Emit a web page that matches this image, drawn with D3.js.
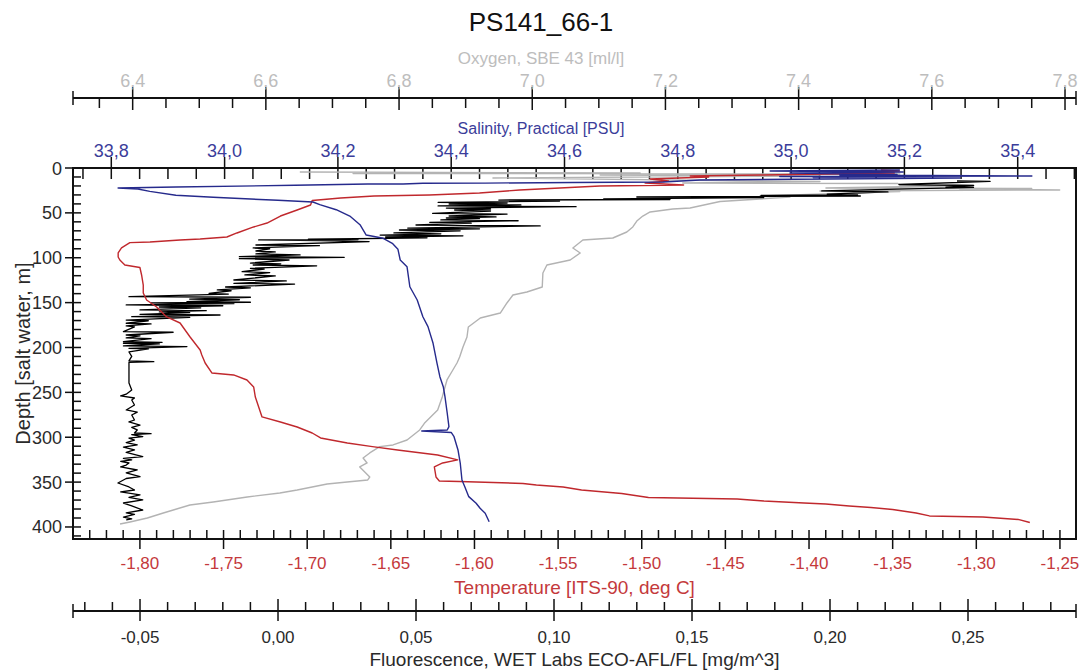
<!DOCTYPE html>
<html>
<head>
<meta charset="utf-8">
<title>PS141_66-1</title>
<script src="https://cdn.jsdelivr.net/npm/d3@7"></script>
<style>
  html, body { margin: 0; padding: 0; background: #fff; }
  svg { display: block; font-family: "Liberation Sans", Arial, sans-serif; }
</style>
</head>
<body>
<svg id="chart" width="1083" height="671"></svg>
<script>
// ---- CTD cast PS141_66-1: profiles as [depth m, value] ----
const temperature = [
  [2.2,-1.357],[3.3,-1.346],[4.5,-1.378],[5.6,-1.349],[7.8,-1.429],[8.9,-1.471],[10.0,-1.460],
  [12.3,-1.495],[14.5,-1.484],[16.7,-1.498],[18.9,-1.475],[20.1,-1.525],[22.3,-1.549],[24.5,-1.573],
  [27.9,-1.597],[30.1,-1.627],[31.2,-1.660],[33.4,-1.680],[36.2,-1.697],[41.2,-1.698],[46.8,-1.706],
  [53.5,-1.716],[61.3,-1.724],[65.7,-1.732],[72.4,-1.742],[76.9,-1.748],[79.1,-1.764],[80.2,-1.776],
  [82.5,-1.794],[83.2,-1.806],[89.1,-1.811],[94.7,-1.813],[99.2,-1.813],[102.5,-1.812],[108.1,-1.809],
  [110.9,-1.800],[119.2,-1.799],[130.4,-1.798],[139.3,-1.798],[147.1,-1.796],[154.9,-1.790],
  [166.0,-1.784],[172.7,-1.776],[188.3,-1.770],[202.8,-1.764],[208.4,-1.763],[217.3,-1.761],
  [228.4,-1.757],[230.6,-1.744],[236.2,-1.736],[244.0,-1.732],[255.2,-1.731],[277.4,-1.727],
  [283.0,-1.716],[288.6,-1.706],[295.3,-1.697],[300.8,-1.692],[306.4,-1.676],[310.5,-1.661],
  [314.2,-1.646],[319.8,-1.622],[325.3,-1.610],[328.7,-1.619],[333.1,-1.624],[344.3,-1.623],
  [348.7,-1.621],[349.3,-1.609],[351.5,-1.571],[353.2,-1.563],[355.4,-1.547],[358.8,-1.536],
  [362.7,-1.512],[367.1,-1.496],[368.8,-1.443],[371.0,-1.427],[373.3,-1.403],[374.4,-1.390],
  [376.6,-1.376],[378.3,-1.363],[380.5,-1.350],[384.4,-1.336],[387.7,-1.328],[388.9,-1.296],
  [391.6,-1.275],[395.0,-1.268]
];

const salinity = [
  [2.2,35.192],[3.3,34.963],[4.5,35.198],[5.6,34.998],[7.2,35.187],[7.8,35.086],[8.9,35.425],
  [9.5,34.980],[10.0,35.187],[10.6,35.039],[11.1,35.298],[13.4,34.839],[15.6,34.774],[16.2,34.615],
  [16.8,34.460],[17.0,34.350],[17.8,34.315],[17.9,34.253],[19.3,34.124],[21.2,33.914],[22.3,33.812],
  [23.4,33.847],[26.0,33.868],[30.4,33.914],[32.6,33.980],[36.0,34.094],[37.9,34.156],[40.9,34.168],
  [46.5,34.197],[53.5,34.221],[63.2,34.239],[74.7,34.250],[78.3,34.280],[83.9,34.296],[90.6,34.306],
  [102.5,34.310],[110.0,34.322],[132.3,34.327],[147.1,34.340],[165.7,34.350],[176.8,34.359],
  [195.3,34.368],[217.6,34.375],[232.5,34.380],[243.7,34.386],[254.8,34.389],[273.3,34.393],
  [288.2,34.396],[291.9,34.393],[293.0,34.348],[294.7,34.400],[299.4,34.405],[314.2,34.412],
  [329.0,34.416],[347.6,34.419],[355.1,34.424],[366.2,34.431],[373.6,34.444],[379.2,34.451],
  [384.7,34.460],[394.1,34.467]
];

const oxygen = [
  [4.5,6.651],[5.6,7.162],[6.1,6.731],[6.7,7.552],[7.8,7.102],[8.9,7.432],[11.1,6.941],[14.5,7.342],
  [15.0,7.432],[16.7,7.226],[17.3,7.549],[18.9,7.552],[19.5,7.663],[22.3,7.441],[22.8,7.750],
  [23.4,7.642],[24.5,7.792],[25.6,7.432],[26.2,7.552],[31.2,7.342],[32.3,7.387],[36.8,7.294],
  [37.3,7.282],[44.6,7.237],[45.7,7.211],[49.0,7.177],[53.5,7.166],[59.1,7.157],[65.7,7.151],
  [71.3,7.142],[78.0,7.121],[80.2,7.076],[89.1,7.061],[94.7,7.072],[102.5,7.057],[108.1,7.022],
  [117.0,7.016],[132.6,7.015],[138.2,6.992],[141.5,6.971],[150.4,6.962],[161.6,6.952],[167.1,6.922],
  [177.2,6.904],[188.3,6.902],[199.4,6.896],[210.6,6.891],[217.3,6.887],[227.3,6.879],[236.2,6.872],
  [244.0,6.869],[254.8,6.865],[269.6,6.858],[284.5,6.838],[291.9,6.831],[303.1,6.812],[308.6,6.791],
  [310.5,6.771],[317.5,6.756],[323.1,6.746],[328.7,6.752],[333.1,6.741],[344.3,6.756],[347.6,6.753],
  [349.9,6.722],[352.1,6.692],[358.8,6.647],[362.1,6.621],[366.6,6.572],[372.1,6.521],[375.5,6.486],
  [381.1,6.461],[384.4,6.446],[390.0,6.422],[394.4,6.396],[396.7,6.381]
];

const fluorescence = [
  [14.5,0.246],[15.0,0.258],[18.4,0.225],[19.5,0.252],[21.2,0.242],[21.7,0.252],[25.6,0.197],
  [26.7,0.221],[29.0,0.199],[30.1,0.210],[30.6,0.175],[31.2,0.211],[32.3,0.130],[32.9,0.176],
  [34.5,0.118],[35.1,0.142],[35.7,0.080],[36.8,0.102],[38.2,0.058],[39.0,0.083],[40.1,0.062],
  [41.2,0.088],[42.3,0.058],[43.1,0.108],[44.6,0.061],[45.7,0.077],[46.8,0.064],[47.9,0.077],
  [50.5,0.056],[51.3,0.083],[53.5,0.062],[54.5,0.079],[55.7,0.061],[56.5,0.073],[57.9,0.059],
  [58.8,0.087],[60.7,0.055],[61.5,0.070],[63.5,0.050],[64.5,0.095],[66.9,0.047],[67.8,0.073],
  [69.1,0.044],[70.0,0.066],[72.4,0.042],[73.3,0.059],[74.7,0.037],[75.6,0.067],[76.9,0.039],
  [77.8,0.054],[79.4,0.011],[79.8,0.029],[80.2,-0.007],[80.8,0.015],[81.3,0.019],[82.0,0.033],
  [85.8,-0.008],[86.5,0.015],[89.1,-0.009],[90.0,-0.003],[92.5,-0.008],[93.5,-0.001],[95.8,-0.008],
  [96.8,0.008],[98.8,-0.014],[99.5,0.024],[101.0,-0.014],[102.5,0.004],[105.9,-0.010],[106.8,0.001],
  [108.1,-0.009],[109.0,0.014],[111.8,-0.010],[112.6,-0.005],[115.5,-0.013],[116.5,-0.003],
  [119.2,-0.012],[120.2,-0.001],[124.8,-0.016],[125.8,0.003],[128.5,-0.016],[129.3,0.006],
  [132.6,-0.019],[133.5,-0.010],[135.9,-0.022],[136.8,-0.017],[139.6,-0.025],[140.5,-0.018],
  [143.4,-0.054],[144.0,-0.010],[146.0,-0.032],[146.8,-0.014],[149.0,-0.033],[149.6,-0.010],
  [150.4,-0.046],[151.2,-0.016],[152.6,-0.055],[153.5,-0.020],[154.9,-0.043],[155.8,-0.028],
  [158.2,-0.050],[159.0,-0.026],[160.4,-0.043],[161.2,-0.032],[163.0,-0.050],[163.8,-0.021],
  [165.7,-0.053],[166.5,-0.032],[169.4,-0.055],[170.2,-0.047],[173.0,-0.055],[173.8,-0.046],
  [176.0,-0.055],[177.0,-0.052],[182.4,-0.056],[183.0,-0.038],[186.1,-0.055],[187.0,-0.050],
  [189.4,-0.055],[190.2,-0.046],[193.5,-0.056],[194.2,-0.042],[195.3,-0.056],[196.0,-0.043],
  [198.3,-0.056],[199.0,-0.033],[200.9,-0.054],[201.6,-0.047],[205.0,-0.054],[210.0,-0.053],
  [215.0,-0.054],[215.8,-0.045],[216.5,-0.054],[225.0,-0.054],[236.2,-0.054],[239.6,-0.054],
  [247.4,-0.053],[252.0,-0.055],[254.0,-0.057],[256.3,-0.052],[258.5,-0.053],[264.1,-0.052],
  [269.6,-0.055],[272.0,-0.051],[275.2,-0.053],[280.8,-0.052],[283.0,-0.054],[286.4,-0.050],
  [289.0,-0.053],[291.9,-0.051],[295.3,-0.052],[296.0,-0.046],[297.0,-0.053],[299.4,-0.049],
  [301.0,-0.054],[303.1,-0.052],[306.0,-0.055],[308.6,-0.051],[311.0,-0.056],[314.2,-0.052],
  [317.0,-0.055],[321.7,-0.049],[323.5,-0.056],[325.3,-0.053],[327.0,-0.057],[328.7,-0.054],
  [331.0,-0.055],[333.1,-0.057],[336.5,-0.051],[339.8,-0.055],[344.0,-0.050],[346.0,-0.055],
  [351.0,-0.058],[355.4,-0.054],[358.8,-0.052],[361.0,-0.057],[364.3,-0.050],[367.0,-0.054],
  [369.9,-0.049],[373.3,-0.056],[376.6,-0.053],[381.1,-0.049],[384.4,-0.055],[386.0,-0.052],
  [388.9,-0.056],[391.0,-0.053],[392.2,-0.055]
];

// ---- axis tick labels ----
const depthTicks = [0, 50, 100, 150, 200, 250, 300, 350, 400];
const oxygenTicks = [6.4, 6.6, 6.8, 7.0, 7.2, 7.4, 7.6, 7.8];
const salinityTicks = [33.8, 34.0, 34.2, 34.4, 34.6, 34.8, 35.0, 35.2, 35.4];
const temperatureTicks = [-1.80, -1.75, -1.70, -1.65, -1.60, -1.55, -1.50, -1.45, -1.40, -1.35, -1.30, -1.25];
const fluorescenceTicks = [-0.05, 0.00, 0.05, 0.10, 0.15, 0.20, 0.25];

// ---- layout ----
const L = 73, R = 1076, T = 168, B = 539;
const OXY_Y = 98, FLUO_Y = 611;
const COL = {
  temp: "#c0282d", tempText: "#c4393c",
  sal: "#262a8c", salText: "#3b3d9a",
  oxy: "#b3b3b3", oxyText: "#bdbdbd",
  fluo: "#000000", text: "#2a2a2a"
};

const svg = d3.select("#chart");
const loc = d3.formatLocale({decimal: ",", thousands: ".", grouping: [3], currency: ["", ""], minus: "-"});
const f1 = loc.format(".1f"), f2 = loc.format(".2f");

// ---- scales ----
const y = d3.scaleLinear().domain([0, 413.4]).range([T, B]);
const xOxy = d3.scaleLinear().domain([6.3104, 7.8165]).range([L, R]);
const xSal = d3.scaleLinear().domain([33.7324, 35.5029]).range([L, R]);
const xTemp = d3.scaleLinear().domain([-1.84, -1.2404]).range([L, R]);
const xFluo = d3.scaleLinear().domain([-0.07428, 0.28913]).range([L, R]);

function minorRange(scale, step) {
  const [a, b] = scale.domain();
  const out = [];
  for (let i = Math.ceil(a / step - 1e-6); i * step <= b + 1e-9; i++) out.push(+(i * step).toFixed(4));
  return out;
}

const axes = svg.append("g").attr("stroke", "#111").attr("fill", "none");

// plot frame
axes.append("rect").attr("x", L).attr("y", T).attr("width", R - L).attr("height", B - T)
  .attr("stroke-width", 2);

// ---- depth axis (left) ----
minorRange(y, 10).forEach(d => {
  const major = d % 50 === 0;
  axes.append("line").attr("x1", major ? L - 8 : L).attr("x2", L + 8)
    .attr("y1", y(d)).attr("y2", y(d)).attr("stroke-width", 1.5);
});
svg.append("g").selectAll("text").data(depthTicks).join("text")
  .attr("x", L - 11).attr("y", d => y(d) + 6.5)
  .attr("text-anchor", "end").attr("font-size", 18).attr("fill", COL.text)
  .text(d => d);
svg.append("text")
  .attr("transform", `translate(23,${(T + B) / 2}) rotate(-90)`)
  .attr("text-anchor", "middle").attr("dominant-baseline", "central")
  .attr("font-size", 20).attr("fill", COL.text)
  .text("Depth [salt water, m]");

// ---- salinity axis (frame top) ----
minorRange(xSal, 0.05).forEach(v => {
  const major = salinityTicks.some(t => Math.abs(t - v) < 1e-6);
  axes.append("line").attr("x1", xSal(v)).attr("x2", xSal(v))
    .attr("y1", major ? T - 11 : T).attr("y2", T + 11).attr("stroke-width", 1.5);
});
svg.append("g").selectAll("text").data(salinityTicks).join("text")
  .attr("x", d => xSal(d)).attr("y", T - 11)
  .attr("text-anchor", "middle").attr("font-size", 18).attr("fill", COL.salText)
  .text(d => f1(d));
svg.append("text").attr("x", 541).attr("y", 134)
  .attr("text-anchor", "middle").attr("font-size", 16).attr("fill", COL.salText)
  .text("Salinity, Practical [PSU]");

// ---- oxygen axis (top) ----
axes.append("line").attr("x1", L).attr("x2", R).attr("y1", OXY_Y).attr("y2", OXY_Y).attr("stroke-width", 2);
[L, R].forEach(x => axes.append("line").attr("x1", x).attr("x2", x)
  .attr("y1", OXY_Y - 7).attr("y2", OXY_Y + 7).attr("stroke-width", 1.5));
minorRange(xOxy, 0.05).forEach(v => {
  const major = oxygenTicks.some(t => Math.abs(t - v) < 1e-6);
  axes.append("line").attr("x1", xOxy(v)).attr("x2", xOxy(v))
    .attr("y1", major ? OXY_Y - 11 : OXY_Y).attr("y2", OXY_Y + (major ? 12 : 10)).attr("stroke-width", 1.5);
});
svg.append("g").selectAll("text").data(oxygenTicks).join("text")
  .attr("x", d => xOxy(d)).attr("y", 87)
  .attr("text-anchor", "middle").attr("font-size", 18).attr("fill", COL.oxyText)
  .text(d => f1(d));
svg.append("text").attr("x", 541).attr("y", 64)
  .attr("text-anchor", "middle").attr("font-size", 17).attr("fill", COL.oxyText)
  .text("Oxygen, SBE 43 [ml/l]");

// ---- temperature axis (frame bottom) ----
minorRange(xTemp, 0.01).forEach(v => {
  const major = temperatureTicks.some(t => Math.abs(t - v) < 1e-6);
  axes.append("line").attr("x1", xTemp(v)).attr("x2", xTemp(v))
    .attr("y1", B - 9).attr("y2", major ? B + 10 : B).attr("stroke-width", 1.5);
});
svg.append("g").selectAll("text").data(temperatureTicks).join("text")
  .attr("x", d => xTemp(d)).attr("y", 569)
  .attr("text-anchor", "middle").attr("font-size", 17).attr("fill", COL.tempText)
  .text(d => f2(d));
svg.append("text").attr("x", (L + R) / 2).attr("y", 594)
  .attr("text-anchor", "middle").attr("font-size", 19).attr("fill", COL.tempText)
  .text("Temperature [ITS-90, deg C]");

// ---- fluorescence axis (bottom) ----
axes.append("line").attr("x1", L).attr("x2", R).attr("y1", FLUO_Y).attr("y2", FLUO_Y).attr("stroke-width", 2);
[L, R].forEach(x => axes.append("line").attr("x1", x).attr("x2", x)
  .attr("y1", FLUO_Y - 7).attr("y2", FLUO_Y + 7).attr("stroke-width", 1.5));
minorRange(xFluo, 0.01).forEach(v => {
  const major = fluorescenceTicks.some(t => Math.abs(t - v) < 1e-6);
  axes.append("line").attr("x1", xFluo(v)).attr("x2", xFluo(v))
    .attr("y1", major ? FLUO_Y - 12 : FLUO_Y - 9).attr("y2", major ? FLUO_Y + 10 : FLUO_Y).attr("stroke-width", 1.5);
});
svg.append("g").selectAll("text").data(fluorescenceTicks).join("text")
  .attr("x", d => xFluo(d)).attr("y", 643)
  .attr("text-anchor", "middle").attr("font-size", 17).attr("fill", COL.text)
  .text(d => f2(d));
svg.append("text").attr("x", (L + R) / 2).attr("y", 666)
  .attr("text-anchor", "middle").attr("font-size", 19).attr("fill", COL.text)
  .text("Fluorescence, WET Labs ECO-AFL/FL [mg/m^3]");

// ---- title ----
svg.append("text").attr("x", 541).attr("y", 31)
  .attr("text-anchor", "middle").attr("font-size", 26).attr("fill", "#111")
  .text("PS141_66-1");

// ---- profiles ----
svg.append("clipPath").attr("id", "plot-clip").append("rect")
  .attr("x", L + 1).attr("y", T + 1).attr("width", R - L - 2).attr("height", B - T - 2);
const plot = svg.append("g").attr("clip-path", "url(#plot-clip)").attr("fill", "none")
  .attr("stroke-linejoin", "round");

const profile = xs => d3.line().x(d => xs(d[1])).y(d => y(d[0]));
plot.append("path").datum(oxygen).attr("d", profile(xOxy)).attr("stroke", COL.oxy).attr("stroke-width", 1.4);
plot.append("path").datum(fluorescence).attr("d", profile(xFluo)).attr("stroke", COL.fluo).attr("stroke-width", 1.3);
plot.append("path").datum(temperature).attr("d", profile(xTemp)).attr("stroke", COL.temp).attr("stroke-width", 1.4);
plot.append("path").datum(salinity).attr("d", profile(xSal)).attr("stroke", COL.sal).attr("stroke-width", 1.4);
</script>
</body>
</html>
